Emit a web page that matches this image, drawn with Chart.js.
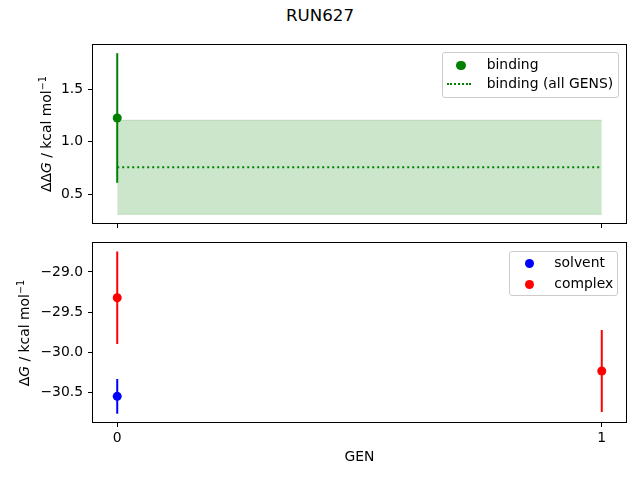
<!DOCTYPE html>
<html><head><meta charset="utf-8">
<script src="https://cdn.jsdelivr.net/npm/chart.js@4"></script>
<style>
html,body{margin:0;padding:0;background:#fff;}
#wrap{position:relative;width:640px;height:480px;font-family:"DejaVu Sans",sans-serif;color:#000;overflow:hidden;background:#fff;}
.cv{position:absolute;left:0;width:640px;}
#title{position:absolute;left:0;width:640px;top:8.3px;text-align:center;font-size:16.67px;line-height:16.67px;white-space:nowrap;}
.ylab{position:absolute;font-size:13.9px;line-height:16.68px;white-space:nowrap;transform:translate(-50%,-50%) rotate(-90deg);}
.ylab .sup{font-size:9.7px;position:relative;top:-0.55em;}
.leg{position:absolute;border:1px solid #cccccc;border-radius:3px;background:rgba(255,255,255,0.8);box-sizing:border-box;}
.legtxt{position:absolute;font-size:13.9px;line-height:16.68px;white-space:nowrap;}
.legdot{position:absolute;border-radius:50%;}
.legline{position:absolute;height:0;}
</style></head><body>
<div id="wrap">
<div id="title">RUN627</div>
<div class="cv" style="top:0;height:240px"><canvas id="c1" width="640" height="240"></canvas></div>
<div class="cv" style="top:230px;height:250px"><canvas id="c2" width="640" height="250"></canvas></div>
<div class="ylab" style="left:46.9px;top:134px">ΔΔ<i>G</i> / kcal mol<span class="sup">−1</span></div>
<div class="ylab" style="left:24.5px;top:332.5px">Δ<i>G</i> / kcal mol<span class="sup">−1</span></div>
</div>
<script>
// ---- data ----
const xTicks = [0, 1];
const bindingGen = [0];
const bindingValues = [1.227];
const bindingErrors = [0.617];
const bindingAllRange = [0, 1];
const bindingAllMean = 0.758;
const bindingAllError = 0.448;
const solventGen = [0];
const solventValues = [-30.545];
const solventErrors = [0.215];
const complexGen = [0, 1];
const complexValues = [-29.32, -30.23];
const complexErrors = [0.575, 0.51];
const topYTicks = [0.5, 1.0, 1.5];
const bottomYTicks = [-29.0, -29.5, -30.0, -30.5];
const topLegendLabels = ['binding', 'binding (all GENS)'];
const bottomLegendLabels = ['solvent', 'complex'];
const xTitle = 'GEN';

const GREEN = '#008000', BLUE = '#0000ff', RED = '#ff0000';
const FONT = {family: 'DejaVu Sans', size: 13.9};

function fmt(v){
  const s = Math.abs(v).toFixed(1);
  return v < 0 ? '\u2212' + s : s;
}

function errorBars(xs, ys, es, color){
  return xs.map((x, i) => ({
    type: 'scatter', showLine: true,
    data: [{x: x, y: ys[i] - es[i]}, {x: x, y: ys[i] + es[i]}],
    borderColor: color, borderWidth: 2, pointRadius: 0, pointHoverRadius: 0, fill: false, order: 2
  }));
}
function points(xs, ys, color){
  return {
    type: 'scatter',
    data: xs.map((x, i) => ({x: x, y: ys[i]})),
    backgroundColor: color, borderColor: color, borderWidth: 0,
    pointRadius: 4.5, pointHoverRadius: 4.5, order: 1
  };
}

const frame = {
  id: 'frame',
  afterDraw(chart){
    const {ctx, chartArea: a} = chart;
    ctx.save();
    ctx.strokeStyle = '#000';
    ctx.lineWidth = 1;
    ctx.strokeRect(Math.round(a.left) - 0.5, Math.round(a.top) - 0.5,
                   Math.round(a.right) - Math.round(a.left) + 1, Math.round(a.bottom) - Math.round(a.top) + 1);
    ctx.restore();
  }
};

function makeOptions(yMin, yMax, yTicks, showX, xHeight, padTop){
  return {
    responsive: false, animation: false, devicePixelRatio: 1,
    layout: {padding: {top: padTop, right: 14, bottom: 0, left: 0}},
    plugins: {legend: {display: false}, tooltip: {enabled: false}},
    events: [],
    scales: {
      x: {
        type: 'linear', min: -0.05, max: 1.05,
        afterBuildTicks(s){ s.ticks = xTicks.map(v => ({value: v})); },
        afterFit(s){ s.height = xHeight; },
        grid: {drawOnChartArea: false, drawTicks: true, tickLength: 5, color: '#000', tickColor: '#000', lineWidth: 1},
        border: {display: false},
        ticks: {color: '#000', font: FONT, padding: 3, maxRotation: 0,
                callback: (v) => showX ? String(v) : ''},
        title: {display: showX, text: xTitle, color: '#000', font: FONT, padding: {top: 0, bottom: 14}}
      },
      y: {
        type: 'linear', min: yMin, max: yMax,
        afterBuildTicks(s){ s.ticks = yTicks.map(v => ({value: v})); },
        afterFit(s){ s.width = 93; },
        grid: {drawOnChartArea: false, drawTicks: true, tickLength: 5, color: '#000', tickColor: '#000', lineWidth: 1},
        border: {display: false},
        ticks: {color: '#000', font: FONT, padding: 5, callback: (v) => fmt(v)}
      }
    }
  };
}

// ---- top chart ----
const topDatasets = [
  {type: 'scatter', showLine: true, data: bindingAllRange.map(x => ({x: x, y: bindingAllMean - bindingAllError})),
   borderColor: 'rgba(0,128,0,0.2)', borderWidth: 1, pointRadius: 0, fill: false, order: 5},
  {type: 'scatter', showLine: true, data: bindingAllRange.map(x => ({x: x, y: bindingAllMean + bindingAllError})),
   borderColor: 'rgba(0,128,0,0.2)', backgroundColor: 'rgba(0,128,0,0.2)', borderWidth: 1, pointRadius: 0, fill: '-1', order: 4},
  ...errorBars(bindingGen, bindingValues, bindingErrors, GREEN),
  points(bindingGen, bindingValues, GREEN),
  {type: 'scatter', showLine: true, data: bindingAllRange.map(x => ({x: x, y: bindingAllMean})),
   borderColor: GREEN, borderWidth: 1.8, borderDash: [2, 3], pointRadius: 0, fill: false, order: 0}
];
new Chart(document.getElementById('c1'), {
  type: 'scatter',
  data: {datasets: topDatasets},
  options: makeOptions(0.227, 1.922, topYTicks, false, 17, 45),
  plugins: [frame]
});

// ---- bottom chart ----
const bottomDatasets = [
  ...errorBars(solventGen, solventValues, solventErrors, BLUE),
  points(solventGen, solventValues, BLUE),
  ...errorBars(complexGen, complexValues, complexErrors, RED),
  points(complexGen, complexValues, RED)
];
new Chart(document.getElementById('c2'), {
  type: 'scatter',
  data: {datasets: bottomDatasets},
  options: makeOptions(-30.864, -28.644, bottomYTicks, true, 58, 13),
  plugins: [frame]
});

// ---- legends (HTML) ----
const wrap = document.getElementById('wrap');
function addLegend(box, items){
  const b = document.createElement('div');
  b.className = 'leg';
  Object.assign(b.style, {left: box[0] + 'px', top: box[1] + 'px', width: box[2] + 'px', height: box[3] + 'px'});
  wrap.appendChild(b);
  items.forEach(it => {
    if (it.kind === 'dot'){
      const d = document.createElement('div');
      d.className = 'legdot';
      Object.assign(d.style, {left: (it.mx - 4.6) + 'px', top: (it.my - 4.6) + 'px', width: '9.2px', height: '9.2px', background: it.color});
      wrap.appendChild(d);
    } else {
      const l = document.createElement('div');
      l.className = 'legline';
      Object.assign(l.style, {left: it.lx0 + 'px', top: (it.my - 1) + 'px', width: (it.lx1 - it.lx0) + 'px', borderTop: '2px dotted ' + it.color});
      wrap.appendChild(l);
    }
    const t = document.createElement('div');
    t.className = 'legtxt';
    t.textContent = it.label;
    Object.assign(t.style, {left: it.tx + 'px', top: (it.my + 3.6 - 13.15) + 'px'});
    wrap.appendChild(t);
  });
}
addLegend([442.3, 52.3, 176.4, 46], [
  {kind: 'dot', label: topLegendLabels[0], color: GREEN, mx: 461, my: 65.7, tx: 486.7},
  {kind: 'line', label: topLegendLabels[1], color: GREEN, lx0: 447, lx1: 471, my: 84.3, tx: 486.7}
]);
addLegend([509.3, 250.7, 109, 45.3], [
  {kind: 'dot', label: bottomLegendLabels[0], color: BLUE, mx: 529.3, my: 263.3, tx: 554.3},
  {kind: 'dot', label: bottomLegendLabels[1], color: RED, mx: 529.3, my: 284.3, tx: 554.3}
]);
</script>
</body></html>
